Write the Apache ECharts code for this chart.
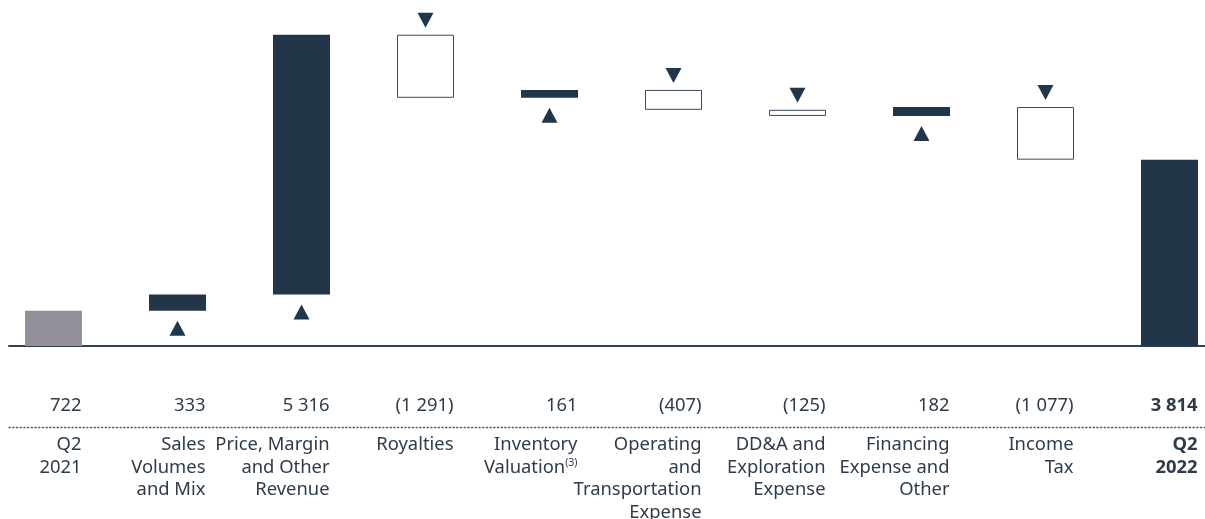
<!DOCTYPE html>
<html>
<head>
<meta charset="utf-8">
<script src="https://cdn.jsdelivr.net/npm/echarts@6/dist/echarts.min.js"></script>
<style>html,body{margin:0;padding:0;background:#fff}#c{width:1205px;height:519px}</style>
</head>
<body>
<div id="c"></div>
<script>
// ---- data ----
const categories = ['Q2\n2021', 'Sales\nVolumes\nand Mix', 'Price, Margin\nand Other\nRevenue', 'Royalties', 'Inventory\nValuation', 'Operating\nand\nTransportation\nExpense', 'DD&A and\nExploration\nExpense', 'Financing\nExpense and\nOther', 'Income\nTax', 'Q2\n2022'];
const footnotes = ['', '', '', '', '(3)', '', '', '', '', ''];
const values = [722, 333, 5316, -1291, 161, -407, -125, 182, -1077, 3814];
const kinds = ['start', 'delta', 'delta', 'delta', 'delta', 'delta', 'delta', 'delta', 'delta', 'end'];

// ---- derived ----
const NAVY = '#22364a', GREY = '#938f99', TEXT = '#2e3c4a';
const base = [], height = [], upTri = [], downTri = [];
let cum = 0;
values.forEach((v, i) => {
  if (kinds[i] === 'start') { base.push(0); height.push(v); cum = v; upTri.push('-'); downTri.push('-'); }
  else if (kinds[i] === 'end') { base.push(0); height.push(v); upTri.push('-'); downTri.push('-'); }
  else if (v >= 0) { base.push(cum); height.push(v); upTri.push(cum); downTri.push('-'); cum += v; }
  else { base.push(cum + v); height.push(-v); downTri.push(cum); upTri.push('-'); cum += v; }
});
function fmtNum(v) {
  const s = Math.abs(v).toString().replace(/\B(?=(\d{3})+(?!\d))/g, ' ');
  return v < 0 ? '(' + s + ')' : s;
}
const valueLabels = values.map(fmtNum);

const barData = height.map((h, i) => {
  let style;
  if (kinds[i] === 'start') style = { color: GREY };
  else if (kinds[i] === 'end' || values[i] >= 0) style = { color: NAVY };
  else style = { color: '#ffffff', borderColor: '#3a4b5c', borderWidth: 1 };
  return { value: h, itemStyle: style };
});

const FONT = '"Noto Sans", "Open Sans", sans-serif';
const FS = 18.4;
const chart = echarts.init(document.getElementById('c'), null, { renderer: 'canvas' });
chart.setOption({
  animation: false,
  textStyle: { fontFamily: FONT },
  grid: [
    { left: -8.5, right: -26.5, top: 4, bottom: 173, outerBoundsMode: 'none', containLabel: false },
    { left: 9, right: 0, top: 4, bottom: 173, outerBoundsMode: 'none', containLabel: false }
  ],
  xAxis: [
    { type: 'category', gridIndex: 0, data: valueLabels, position: 'bottom',
      axisLine: { show: false }, axisTick: { show: false },
      axisLabel: { interval: 0, margin: 49, align: 'right', padding: [0, -28, 0, 0],
        color: TEXT, fontSize: FS, fontFamily: FONT, lineHeight: 22,
        formatter: (val, idx) => kinds[idx] === 'end' ? '{b|' + val + '}' : val,
        rich: { b: { fontWeight: 'bold', fontSize: FS, color: TEXT, fontFamily: FONT, lineHeight: 22 } } } },
    { type: 'category', gridIndex: 0, data: categories, position: 'bottom', offset: 81,
      axisLine: { show: false }, axisTick: { show: false },
      axisLabel: { interval: 0, margin: 7, align: 'right', padding: [0, -28, 0, 0],
        color: TEXT, fontSize: FS, fontFamily: FONT, lineHeight: 22.5,
        formatter: (val, idx) => {
          const st = kinds[idx] === 'end' ? 'b' : 'n';
          const lines = val.split('\n').map(l => '{' + st + '|' + l + '}');
          if (footnotes[idx]) lines[lines.length - 1] += '{sup|' + footnotes[idx] + '}';
          return lines.join('\n');
        },
        rich: {
          n: { fontSize: FS, color: TEXT, fontFamily: FONT, lineHeight: 22.5 },
          b: { fontSize: FS, color: TEXT, fontFamily: FONT, lineHeight: 22.5, fontWeight: 'bold' },
          sup: { fontSize: 10.5, color: TEXT, fontFamily: FONT, lineHeight: 22.5, padding: [0, 0, 9, 0] }
        } } },
    { type: 'category', gridIndex: 1, data: categories, position: 'bottom',
      axisLine: { show: true, lineStyle: { color: '#2f4255', width: 2 } },
      axisTick: { show: false }, axisLabel: { show: false } },
    { type: 'category', gridIndex: 1, data: categories, position: 'bottom', offset: 81,
      axisLine: { show: true, onZero: false, lineStyle: { color: '#4d5a67', width: 1.3, type: [1.3, 2.4] } },
      axisTick: { show: false }, axisLabel: { show: false } }
  ],
  yAxis: [
    { type: 'value', gridIndex: 0, min: 0, max: 7000, show: false },
    { type: 'value', gridIndex: 1, min: 0, max: 7000, show: false }
  ],
  series: [
    { type: 'bar', xAxisIndex: 0, yAxisIndex: 0, stack: 'w', barWidth: 57, silent: true,
      itemStyle: { color: 'transparent' }, data: base },
    { type: 'bar', xAxisIndex: 0, yAxisIndex: 0, stack: 'w', barWidth: 57, data: barData },
    { type: 'scatter', xAxisIndex: 0, yAxisIndex: 0, symbol: 'triangle', symbolSize: [16, 15],
      symbolOffset: [0, 17.5], itemStyle: { color: NAVY, opacity: 1 }, data: upTri },
    { type: 'scatter', xAxisIndex: 0, yAxisIndex: 0, symbol: 'triangle', symbolSize: [16, 15],
      symbolRotate: 180, symbolOffset: [0, -14.5], itemStyle: { color: NAVY, opacity: 1 }, data: downTri }
  ]
});
</script>
</body>
</html>
